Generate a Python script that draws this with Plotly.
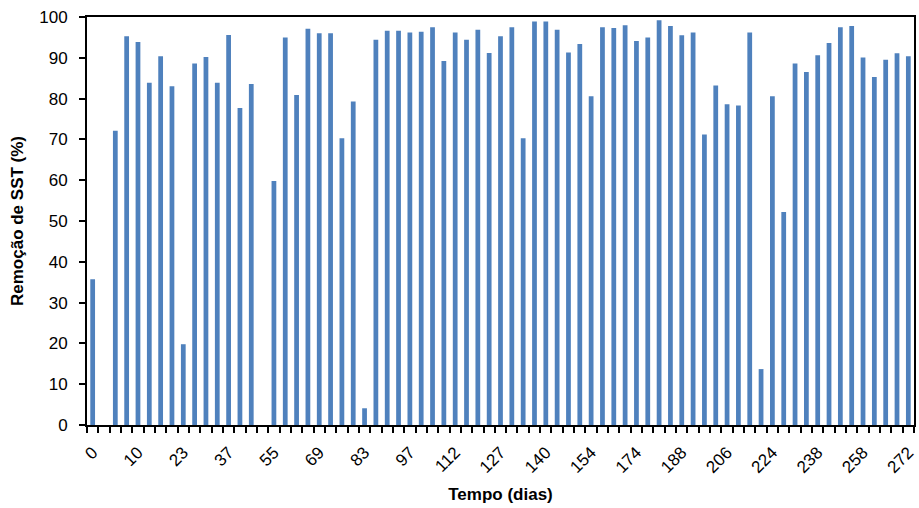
import plotly.graph_objects as go

# Remoção de SST por amostra (None = sem medição)
remocao_sst = [
    35.7, None, 72.1, 95.3, 93.9, 83.9, 90.4, 83.0, 19.8, 88.6,
    90.2, 83.9, 95.6, 77.7, 83.6, None, 59.8, 95.0, 80.9, 97.1,
    96.0, 96.0, 70.3, 79.3, 4.1, 94.4, 96.6, 96.6, 96.2, 96.4,
    97.5, 89.2, 96.2, 94.4, 96.9, 91.2, 95.3, 97.5, 70.3, 98.9,
    98.9, 96.9, 91.3, 93.4, 80.6, 97.5, 97.3, 98.0, 94.1, 95.0,
    99.2, 97.8, 95.5, 96.2, 71.2, 83.2, 78.6, 78.3, 96.2, 13.7,
    80.6, 52.2, 88.6, 86.5, 90.6, 93.6, 97.5, 97.8, 90.1, 85.3,
    89.5, 91.1, 90.4,
]
amostras = list(range(len(remocao_sst)))

# Rótulos do eixo do tempo (um a cada quatro amostras)
dias_rotulos = ["0", "10", "23", "37", "55", "69", "83", "97", "112", "127",
                "140", "154", "174", "188", "206", "224", "238", "258", "272"]
dias_posicoes = amostras[::4]

fonte = "Liberation Sans, Arial, sans-serif"

fig = go.Figure(
    go.Bar(
        x=amostras,
        y=remocao_sst,
        width=0.42,
        marker=dict(color="#4F81BD", line=dict(width=0)),
    )
)

fig.update_layout(
    width=919,
    height=508,
    margin=dict(l=87, r=3, t=17, b=83),
    plot_bgcolor="white",
    paper_bgcolor="white",
    showlegend=False,
    font=dict(family=fonte, color="black", size=17),
)

fig.update_xaxes(
    range=[-0.5, len(amostras) - 0.5],
    tickmode="array",
    tickvals=dias_posicoes,
    ticktext=dias_rotulos,
    tickangle=-45,
    ticks="",
    ticklabelstandoff=9,
    tickfont=dict(size=17),
    showline=True,
    linecolor="black",
    linewidth=2,
    mirror=True,
    showgrid=False,
    zeroline=False,
    minor=dict(
        tickmode="linear",
        tick0=-0.5,
        dtick=1,
        ticks="outside",
        ticklen=6,
        tickwidth=2,
        tickcolor="black",
        showgrid=False,
    ),
    title=dict(text="<b>Tempo (dias)</b>", font=dict(size=17), standoff=12),
)

fig.update_yaxes(
    range=[0, 100],
    tickmode="linear",
    tick0=0,
    dtick=10,
    ticks="outside",
    ticklen=6,
    tickwidth=2,
    tickcolor="black",
    ticklabelstandoff=8,
    tickfont=dict(size=17),
    showline=True,
    linecolor="black",
    linewidth=2,
    mirror=True,
    showgrid=False,
    zeroline=False,
    title=dict(text="<b>Remoção de SST (%)</b>", font=dict(size=17), standoff=11),
)

fig.write_html("out.html")
